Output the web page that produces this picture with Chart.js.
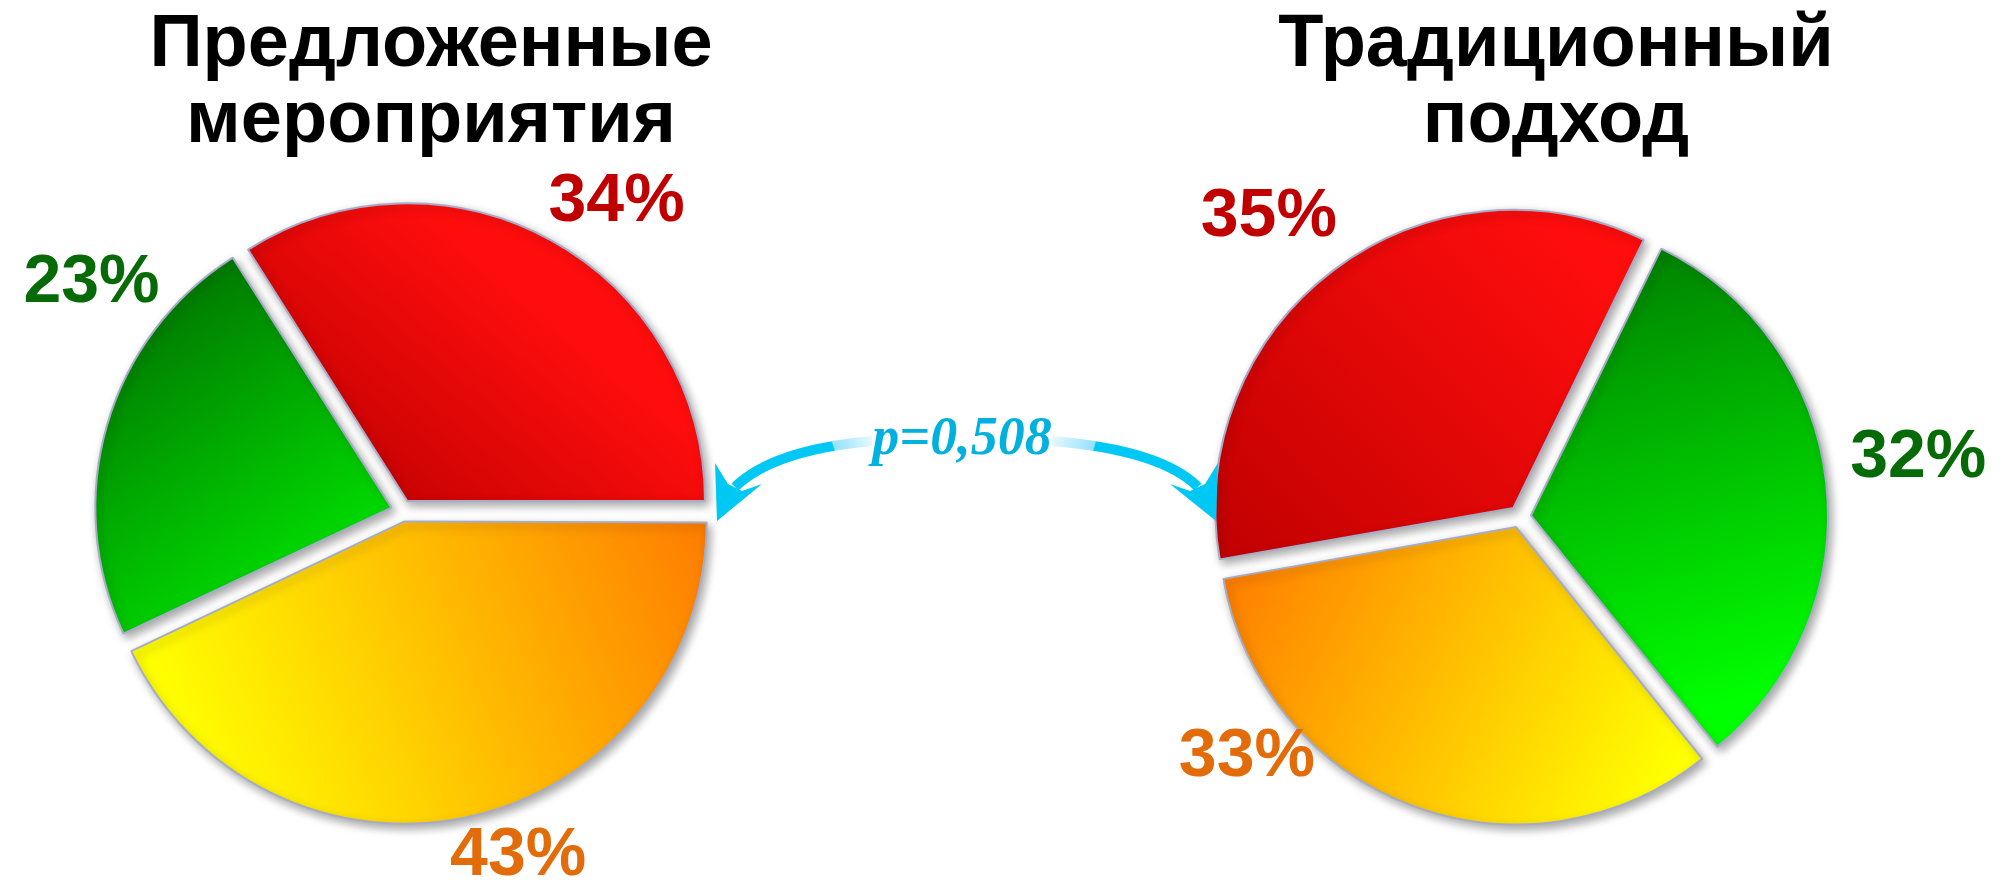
<!DOCTYPE html>
<html>
<head>
<meta charset="utf-8">
<script src="https://cdn.jsdelivr.net/npm/chart.js@4"></script>
<style>
    html, body { margin: 0; padding: 0; background: #fff; }
    #page { position: relative; width: 2011px; height: 883px; overflow: hidden; }
    .pie { position: absolute; top: 0; height: 883px; }
    #leftBox { left: 0; width: 862px; }
    #rightBox { left: 1101px; width: 910px; }
    #arrows { position: absolute; left: 0; top: 0; }
    #pValue {
        position: absolute; left: 762px; top: 405px; width: 400px;
        text-align: center; line-height: 54px;
        font: italic bold 54px "Liberation Serif", "Times New Roman", serif;
        color: #00b0df;
    }
</style>
</head>
<body>
<div id="page">
    <div class="pie" id="leftBox"><canvas id="leftPie"></canvas></div>
    <div class="pie" id="rightBox"><canvas id="rightPie"></canvas></div>
    <canvas id="arrows" width="2011" height="883"></canvas>
    <div id="pValue"></div>
</div>
<script>
// data
const leftTitle = ['Предложенные', 'мероприятия'];
const rightTitle = ['Традиционный', 'подход'];

const leftCategories = ['красный', 'жёлтый', 'зелёный'];
const leftValues = [34, 43, 23];

const rightCategories = ['красный', 'зелёный', 'жёлтый'];
const rightValues = [35, 32, 33];

const pValueText = 'p=0,508';

// styles
const RED_TEXT = '#c00000';
const GREEN_TEXT = '#066a06';
const ORANGE_TEXT = '#e36c0a';
const PIE_RADIUS = 296;

// gradient per slice: points given as [compass angle, fraction of radius]
const leftFills = [
    { from: [220, 0.2], to: [40, 0.8], c0: '#bd0000', c1: '#ff0d0d' },
    { from: [235, 1], to: [80, 1], c0: '#ffff00', c1: '#ff7a00' },
    { from: [325, 1], to: [150, 0.3], c0: '#007c00', c1: '#00f500' }
];
const rightFills = [
    { from: [240, 0.9], to: [30, 0.8], c0: '#bf0000', c1: '#ff0d0d' },
    { from: [20, 0.9], to: [130, 0.95], c0: '#008400', c1: '#00ff00' },
    { from: [265, 1], to: [150, 1], c0: '#ff7a00', c1: '#ffff00' }
];

function sliceFill(fills) {
    return function (context) {
        const spec = fills[context.dataIndex];
        const chart = context.chart;
        const area = chart.chartArea;
        if (!area) {
            return spec.c1;
        }
        const cx = (area.left + area.right) / 2;
        const cy = (area.top + area.bottom) / 2;
        const pt = (p) => {
            const a = p[0] * Math.PI / 180;
            return [cx + Math.sin(a) * PIE_RADIUS * p[1], cy - Math.cos(a) * PIE_RADIUS * p[1]];
        };
        const a = pt(spec.from);
        const b = pt(spec.to);
        const g = chart.ctx.createLinearGradient(a[0], a[1], b[0], b[1]);
        g.addColorStop(0, spec.c0);
        g.addColorStop(1, spec.c1);
        return g;
    };
}

// moves the pie sideways without moving the title
const pieShift = {
    id: 'pieShift',
    afterLayout(chart, args, opts) {
        const dx = opts.dx || 0;
        chart.chartArea.left += dx;
        chart.chartArea.right += dx;
    }
};

const softShadow = {
    id: 'softShadow',
    beforeDatasetsDraw(chart) {
        const c = chart.ctx;
        c.save();
        c.shadowColor = 'rgba(0, 0, 0, 0.35)';
        c.shadowBlur = 10;
        c.shadowOffsetX = 3;
        c.shadowOffsetY = 4;
    },
    afterDatasetsDraw(chart) {
        chart.ctx.restore();
    }
};

const pctLabels = {
    id: 'pctLabels',
    afterDatasetsDraw(chart) {
        const c = chart.ctx;
        const ds = chart.data.datasets[0];
        const meta = chart.getDatasetMeta(0);
        c.save();
        c.font = 'bold 68px "Liberation Sans", Arial, sans-serif';
        c.textAlign = 'center';
        c.textBaseline = 'middle';
        meta.data.forEach((arc, i) => {
            const p = arc.getProps(['x', 'y', 'startAngle', 'endAngle', 'outerRadius'], true);
            const mid = (p.startAngle + p.endAngle) / 2 + ds.labelNudge[i] * Math.PI / 180;
            const d = p.outerRadius * ds.labelDist[i];
            c.fillStyle = ds.labelColors[i];
            c.fillText(ds.data[i] + '%', p.x + Math.cos(mid) * d, p.y + Math.sin(mid) * d);
        });
        c.restore();
    }
};

function makePie(canvasId, title, categories, values, fills, rotation, labels, bottomPad, dx) {
    return new Chart(document.getElementById(canvasId), {
        type: 'pie',
        data: {
            labels: categories,
            datasets: [{
                data: values,
                backgroundColor: sliceFill(fills),
                borderColor: '#a6acc8',
                borderWidth: 2,
                offset: 44,
                radius: PIE_RADIUS,
                labelColors: labels.colors,
                labelNudge: labels.nudge,
                labelDist: labels.dist
            }]
        },
        options: {
            responsive: true,
            maintainAspectRatio: false,
            animation: false,
            events: [],
            rotation: rotation,
            layout: {
                padding: { bottom: bottomPad }
            },
            plugins: {
                legend: { display: false },
                tooltip: { enabled: false },
                pieShift: { dx: dx },
                title: {
                    display: true,
                    text: title,
                    color: '#000000',
                    font: {
                        family: '"Liberation Sans", Arial, sans-serif',
                        size: 74,
                        weight: 'bold',
                        lineHeight: 1.03
                    },
                    padding: { top: 7, bottom: 10 }
                }
            }
        },
        plugins: [pieShift, softShadow, pctLabels]
    });
}

makePie('leftPie', leftTitle, leftCategories, leftValues, leftFills, -32.4, {
    colors: [RED_TEXT, ORANGE_TEXT, GREEN_TEXT],
    nudge: [6, -6, 20],
    dist: [1.27, 1.23, 1.30]
}, 31, -29);
makePie('rightPie', rightTitle, rightCategories, rightValues, rightFills, -100, {
    colors: [RED_TEXT, GREEN_TEXT, ORANGE_TEXT],
    nudge: [-3, -2, 28],
    dist: [1.32, 1.36, 1.23]
}, 19, -36);

// curved arrows around the p-value
document.getElementById('pValue').textContent = pValueText;

function drawArrow(ctx, shaft, head, fade) {
    const p0 = shaft[0], cp = shaft[1], p2 = shaft[2];
    const g = ctx.createLinearGradient(p0[0], p0[1], p2[0], p2[1]);
    g.addColorStop(0, '#e6f8ff');
    g.addColorStop(fade, '#96e2ff');
    g.addColorStop(fade + 0.01, '#00c8f5');
    g.addColorStop(1, '#00c8f5');
    ctx.strokeStyle = g;
    ctx.lineWidth = 10;
    ctx.beginPath();
    ctx.moveTo(p0[0], p0[1]);
    ctx.quadraticCurveTo(cp[0], cp[1], p2[0], p2[1]);
    ctx.stroke();
    ctx.fillStyle = '#00c8f5';
    ctx.beginPath();
    head.forEach((p, i) => i ? ctx.lineTo(p[0], p[1]) : ctx.moveTo(p[0], p[1]));
    ctx.closePath();
    ctx.fill();
}

const actx = document.getElementById('arrows').getContext('2d');
drawArrow(actx,
    [[872, 441], [773, 450], [735, 487]],
    [[715, 463], [728, 484], [742, 491], [762, 484], [717, 521]], 0.26);
drawArrow(actx,
    [[1052, 441], [1161, 450], [1198, 487]],
    [[1218, 463], [1205, 484], [1190, 491], [1170, 484], [1216, 521]], 0.27);
</script>
</body>
</html>
